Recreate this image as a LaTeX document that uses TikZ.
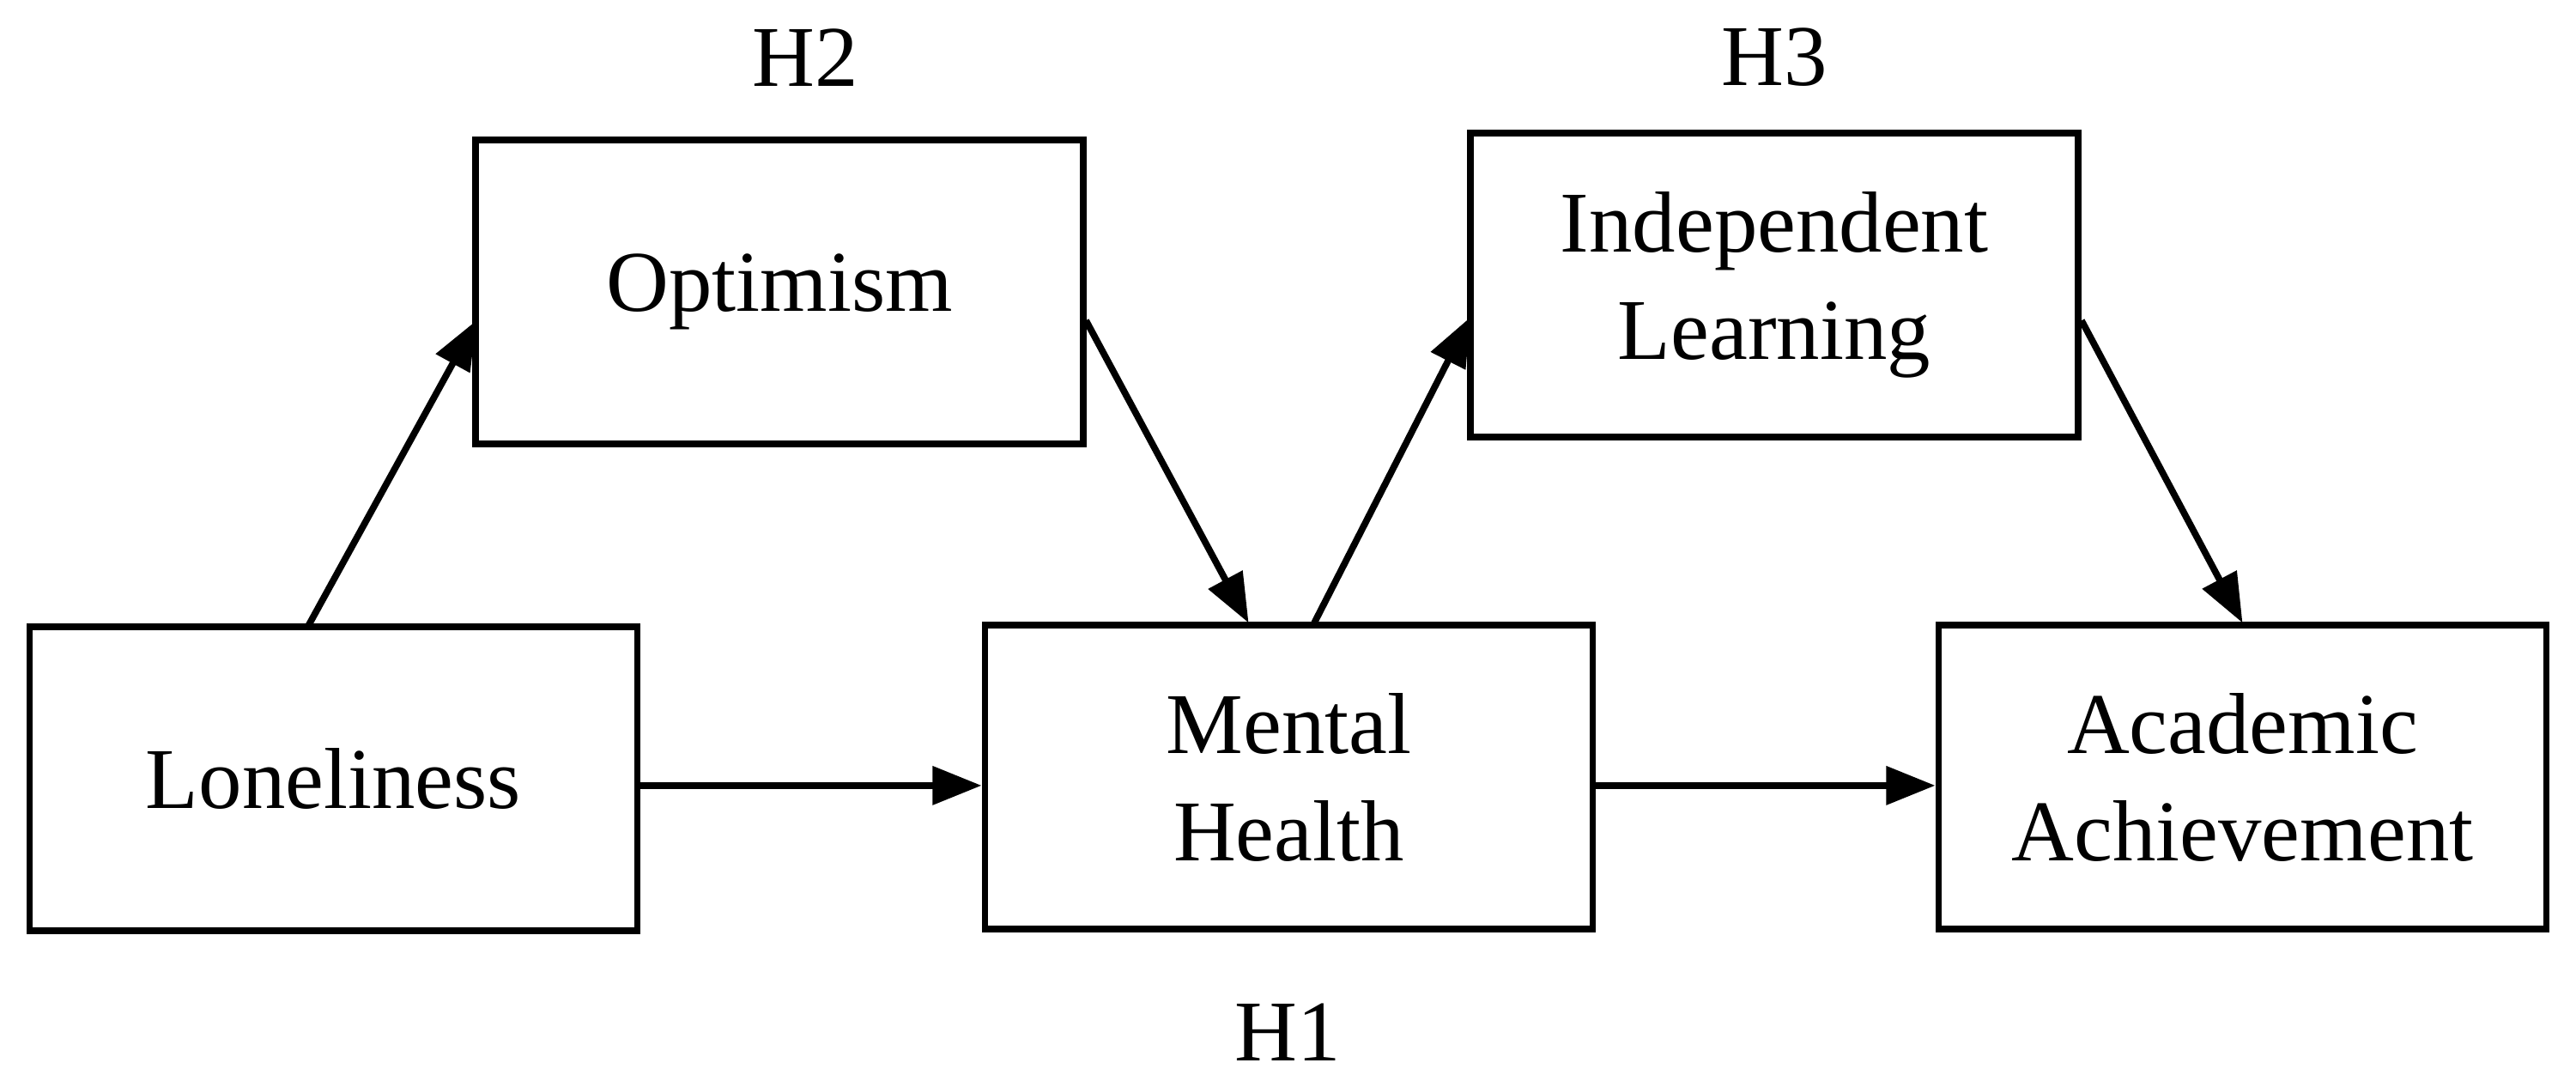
\documentclass[tikz,border=0pt]{standalone}
\usepackage{fontspec}
\setmainfont{Liberation Serif}
\usetikzlibrary{arrows.meta}
\begin{document}
\begin{tikzpicture}[x=0.02cm,y=-0.02cm,
  box/.style={draw,line width=2.3pt,minimum width=370*0.02cm,minimum height=185*0.02cm,align=center,font=\fontsize{30}{37}\selectfont,inner sep=0pt},
  lab/.style={font=\fontsize{30}{36}\selectfont},
  arr/.style={line width=2.3pt,-{Triangle[length=17pt,width=13pt]}}]
\useasboundingbox (0,0) rectangle (1568,654);
\node[box] (lon) at (203,474) {Loneliness};
\node[box] (opt) at (474.5,177.5) {Optimism};
\node[box] (men) at (784.5,473) {Mental\\Health};
\node[box] (ind) at (1080,173.5) {Independent\\Learning};
\node[box] (aca) at (1365,473) {Academic\\Achievement};
\coordinate (a1) at (188,380.2);
\coordinate (a2) at (290,195);
\coordinate (b1) at (661,195);
\coordinate (b2) at (760,379);
\coordinate (c1) at (800,379);
\coordinate (c2) at (895,193);
\coordinate (d1) at (1267,195);
\coordinate (d2) at (1365,379);
\draw[arr] (a1) -- (a2);
\draw[arr] (b1) -- (b2);
\draw[arr] (c1) -- (c2);
\draw[arr] (d1) -- (d2);
\draw[arr] (lon.east |- 0,478) -- (men.west |- 0,478);
\draw[arr] (men.east |- 0,478) -- (aca.west |- 0,478);
\node[lab] (h2) at (490,35) {H2};
\node[lab] (h3) at (1080,35) {H3};
\node[lab] (h1) at (784,628) {H1};
\end{tikzpicture}
\end{document}
